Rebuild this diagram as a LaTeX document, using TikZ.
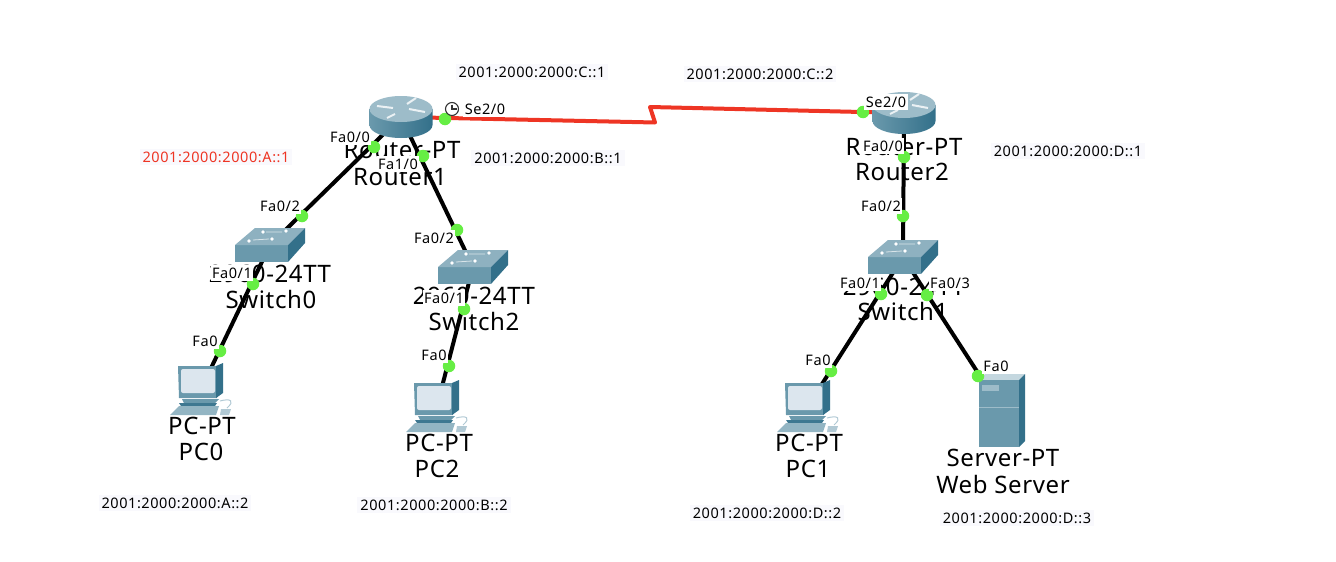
\documentclass[tikz,border=0pt]{standalone}
\usepackage{fontspec}
\setmainfont{Noto Sans}
\newfontfamily\smallfont[LetterSpace=4]{Noto Sans}
\newfontfamily\bigfont[LetterSpace=2.5]{Noto Sans}
\usepackage{tikz}
\definecolor{devmid}{HTML}{6A99AC}
\definecolor{devdark}{HTML}{33708A}
\definecolor{devlight}{HTML}{9DBCC9}
\definecolor{screenfill}{HTML}{DCE6EE}
\definecolor{portgreen}{HTML}{66EE44}
\definecolor{wirered}{HTML}{EE3524}
\definecolor{addrfill}{HTML}{F9F9FD}
\tikzset{
  wire/.style={line width=4pt,black},
  serialwire/.style={line width=4pt,wirered,line join=round},
  portdot/.style={circle,fill=portgreen,inner sep=0pt,minimum size=12.5pt},
  portlabel/.style={fill=white,inner xsep=1.5pt,inner ysep=3pt,font=\smallfont\fontsize{14.5}{15}\selectfont},
  addrlabel/.style={fill=addrfill,inner xsep=3pt,inner ysep=3pt,font=\smallfont\fontsize{14.5}{15}\selectfont},
  devlabel/.style={inner sep=0pt,font=\bigfont\fontsize{24}{25}\selectfont},
  router/.pic={
    \path[left color=devmid,middle color=white!90!devlight,right color=devdark,shading angle=90]
      (-31.5,-8)--(-31.5,8) .. controls (-31.5,15.2) and (-17.4,21) .. (0,21)
      .. controls (17.4,21) and (31.5,15.2) .. (31.5,8)--(31.5,-8)--cycle;
    \fill[devlight] (0,-8) ellipse (31.5 and 13);
    \draw[white!80!devlight,line width=2pt] (-24,-11)--(-8,-9) (6,-13)--(15,-19) (8,-8)--(24,-5) (-6,-3)--(-14,1);
  },
  pcicon/.pic={
    \fill[devmid] (-23,-23)--(16,-23)--(16,9)--(-22,9)--cycle;
    \fill[devdark] (15,-23)--(22,-26)--(22,4)--(15,9)--cycle;
    \fill[screenfill,rounded corners=2pt] (-20,-20) rectangle (14,4);
    \fill[devmid] (-19,10)--(18,10)--(14,14)--(-17,14)--cycle;
    \fill[devdark!80!devmid] (-22,14)--(16,14)--(14,17)--(-20,17)--cycle;
    \fill[devlight!80!devmid] (-31,26)--(-22,17)--(18,17)--(15,26)--cycle;
    \fill[devlight!80!white] (20,20)--(30,20)--(28,26)--(19,26)--cycle;
    \draw[devlight!80!white,line width=1pt] (19,12) .. controls (30,9) and (34,12) .. (26,19);
  },
  switchicon/.pic={
    \fill[devmid] (-35,0) rectangle (18,17);
    \fill[devlight!70!devmid] (-35,0)--(-15,-17)--(35,-17)--(18,0)--cycle;
    \fill[devdark] (18,0)--(35,-17)--(35,-2)--(18,17)--cycle;
    \fill[white] (-21,-4) circle (1.8) (2,-6) circle (1.8) (-7,-13) circle (1.8) (16,-14) circle (1.8);
    \draw[white!60!devlight,line width=0.8pt] (-17,-5)--(-1,-6) (-4,-13)--(12,-13);
  },
  servericon/.pic={
    \fill[devlight!60!white] (-23,-30)--(-17,-36)--(23,-36)--(17,-30)--cycle;
    \fill[devmid] (-23,-30) rectangle (17,37);
    \fill[devdark] (17,-30)--(23,-36)--(23,31)--(17,37)--cycle;
    \fill[devlight] (-20,-25) rectangle (-3,-19);
    \draw[devlight,line width=0.8pt] (-23,-3)--(17,-3);
  },
}
\begin{document}
\begin{tikzpicture}[x=1pt,y=-1pt]
   \useasboundingbox (0,0) rectangle (1336,562);
   % Devices
   \coordinate (router1) at (401,117);
   \coordinate (router2) at (904,113);
   \coordinate (switch0) at (270,245);
   \coordinate (switch2) at (473,267);
   \coordinate (switch1) at (903,257);
   \coordinate (pc0) at (201,389);
   \coordinate (pc2) at (437,406);
   \coordinate (pc1) at (808,406);
   \coordinate (webserver) at (1002,410);
   \coordinate (kinklow) at (655,122.5);
   \coordinate (kinkhigh) at (650,107);
   % Device names
   \node[devlabel] (router1type) at (402,150) {Router-PT};
   \node[devlabel] (router1name) at (400,177) {Router1};
   \node[devlabel] (router2type) at (904,147) {Router-PT};
   \node[devlabel] (router2name) at (902,172) {Router2};
   \node[devlabel] (switch0type) at (270,274) {2960-24TT};
   \node[devlabel] (switch0name) at (271,299) {Switch0};
   \node[devlabel] (switch2type) at (474,296) {2960-24TT};
   \node[devlabel] (switch2name) at (474,321) {Switch2};
   \node[devlabel] (switch1type) at (904,287) {2960-24TT};
   \node[devlabel] (switch1name) at (903,311) {Switch1};
   \node[devlabel] (pc0type) at (202,426) {PC-PT};
   \node[devlabel] (pc0name) at (201,452) {PC0};
   \node[devlabel] (pc2type) at (439,443) {PC-PT};
   \node[devlabel] (pc2name) at (437,469) {PC2};
   \node[devlabel] (pc1type) at (809,443) {PC-PT};
   \node[devlabel] (pc1name) at (808,469) {PC1};
   \node[devlabel] (servertype) at (1003,458) {Server-PT};
   \node[devlabel] (servername) at (1003,484) {Web Server};
   % Links
   \draw[wire] (router1)--(switch0);
   \draw[wire] (switch0)--(pc0);
   \draw[wire] (router1)--(switch2);
   \draw[wire] (switch2)--(pc2);
   \draw[wire] (router2)--(switch1);
   \draw[wire] (switch1)--(pc1);
   \draw[wire] (switch1)--(webserver);
   \draw[serialwire] (router1)--(kinklow)--(kinkhigh)--(router2);
   % Icons
   \pic at (router1) {router};
   \pic at (router2) {router};
   \pic at (switch0) {switchicon};
   \pic at (switch2) {switchicon};
   \pic at (switch1) {switchicon};
   \pic at (pc0) {pcicon};
   \pic at (pc2) {pcicon};
   \pic at (pc1) {pcicon};
   \pic at (webserver) {servericon};
   % Port lights
   \node[portdot] (dotr1se) at (445,119) {};
   \node[portdot] (dotr1fa0) at (374,147) {};
   \node[portdot] (dotr1fa1) at (423,156) {};
   \node[portdot] (dots0up) at (302,216) {};
   \node[portdot] (dots0down) at (253,284) {};
   \node[portdot] (dotpc0) at (220,351) {};
   \node[portdot] (dots2up) at (457,230) {};
   \node[portdot] (dots2down) at (464,309) {};
   \node[portdot] (dotpc2) at (449,366) {};
   \node[portdot] (dotr2se) at (863,112) {};
   \node[portdot] (dotr2fa) at (904,157) {};
   \node[portdot] (dots1up) at (903,216) {};
   \node[portdot] (dots1left) at (881,294) {};
   \node[portdot] (dots1right) at (927,295) {};
   \node[portdot] (dotpc1) at (831,371) {};
   \node[portdot] (dotserver) at (978,376) {};
   % Port names
   \node[portlabel] (r1se) at (485,109) {Se2/0};
   \node[portlabel] (r1fa0) at (350,137) {Fa0/0};
   \node[portlabel] (r1fa1) at (398,164) {Fa1/0};
   \node[portlabel] (s0up) at (280,206) {Fa0/2};
   \node[portlabel] (s0down) at (232,273) {Fa0/1};
   \node[portlabel] (pc0port) at (205,341) {Fa0};
   \node[portlabel] (s2up) at (434,238) {Fa0/2};
   \node[portlabel] (s2down) at (444,298) {Fa0/1};
   \node[portlabel] (pc2port) at (434,355) {Fa0};
   \node[portlabel] (r2se) at (886,102) {Se2/0};
   \node[portlabel] (r2fa) at (883,146) {Fa0/0};
   \node[portlabel] (s1up) at (881,206) {Fa0/2};
   \node[portlabel] (s1left) at (860,283) {Fa0/1};
   \node[portlabel] (s1right) at (950,283) {Fa0/3};
   \node[portlabel] (pc1port) at (818,360) {Fa0};
   \node[portlabel] (serverport) at (996,366) {Fa0};
   % Clock on the serial port
   \draw[black!80,line width=1.1pt,fill=white] (452,109) circle (6.5);
   \draw[black!80,line width=1.1pt] (452,104.5)--(452,109)--(457,109);
   % Addresses
   \node[addrlabel] (addrc1) at (532,72) {2001:2000:2000:C::1};
   \node[addrlabel,text=wirered] (addra1) at (216,157) {2001:2000:2000:A::1};
   \node[addrlabel] (addrb1) at (548,158) {2001:2000:2000:B::1};
   \node[addrlabel] (addrc2) at (760,74) {2001:2000:2000:C::2};
   \node[addrlabel] (addrd1) at (1068,151) {2001:2000:2000:D::1};
   \node[addrlabel] (addra2) at (175,503) {2001:2000:2000:A::2};
   \node[addrlabel] (addrb2) at (434,505) {2001:2000:2000:B::2};
   \node[addrlabel] (addrd2) at (767,513) {2001:2000:2000:D::2};
   \node[addrlabel] (addrd3) at (1017,518) {2001:2000:2000:D::3};
\end{tikzpicture}
\end{document}
